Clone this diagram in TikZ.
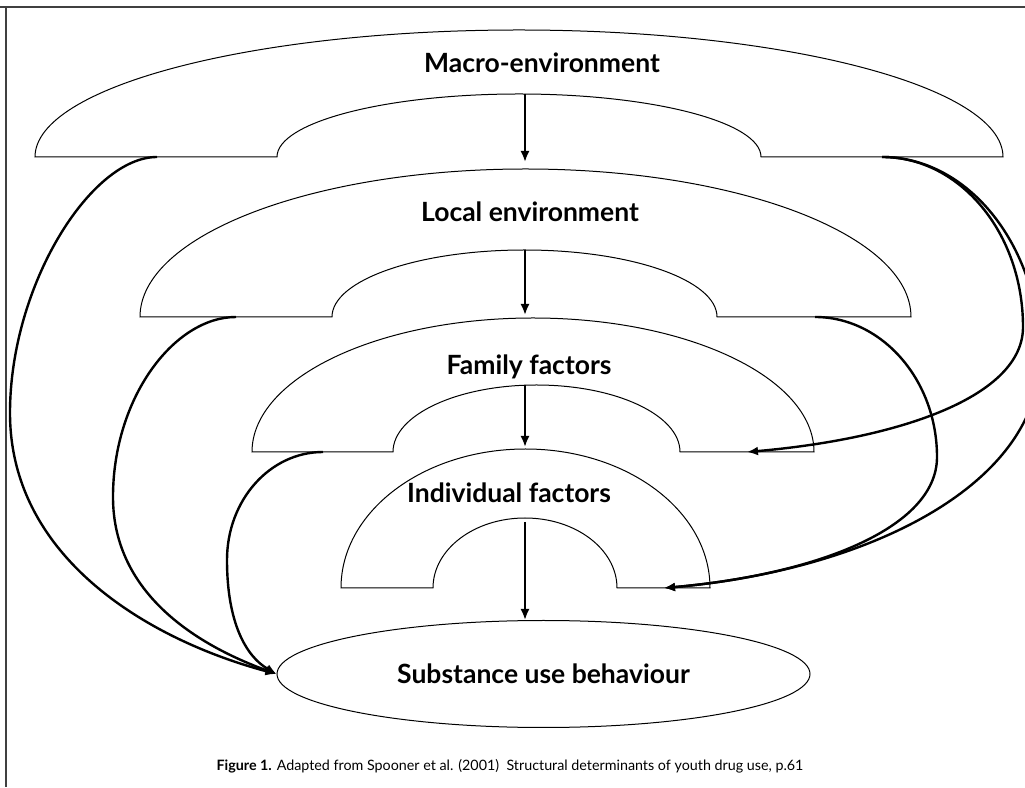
\documentclass[tikz,border=0pt]{standalone}
\usepackage{fontspec}
\setmainfont{Lato}
\usepackage{tikz}
\usetikzlibrary{arrows.meta}
\usetikzlibrary{shapes.geometric}

\begin{document}
\begin{tikzpicture}[x=1pt,y=1pt,
    arch/.style={draw,line width=1pt},
    lbl/.style={font=\fontsize{26.5}{30}\selectfont\bfseries},
    down/.style={line width=2pt,-{Latex[length=11pt,width=9pt]}},
    link/.style={line width=2.4pt,-{Latex[length=11pt,width=9pt]}}]
  \useasboundingbox (0,0) rectangle (1025,787);
  \draw[black!75,line width=1.4pt] (0,780) -- (1025,780);
  \draw[black!75,line width=1.4pt] (6,780) -- (6,0);
  % the four arches
  \draw[arch] (35,630) arc[start angle=180,end angle=0,x radius=484,y radius=127]
    -- (761,630) arc[start angle=0,end angle=180,x radius=242,y radius=63] -- cycle;
  \draw[arch] (140,470) arc[start angle=180,end angle=0,x radius=385.5,y radius=148]
    -- (717,470) arc[start angle=0,end angle=180,x radius=192.5,y radius=67] -- cycle;
  \draw[arch] (252,335) arc[start angle=180,end angle=0,x radius=281,y radius=134]
    -- (680,335) arc[start angle=0,end angle=180,x radius=143.5,y radius=67] -- cycle;
  \draw[arch] (341,199) arc[start angle=180,end angle=0,x radius=184.5,y radius=139]
    -- (617,199) arc[start angle=0,end angle=180,x radius=92,y radius=70] -- cycle;
  \node[lbl](macro) at (542,724) {Macro-environment};
  \node[lbl](local) at (530,575) {Local environment};
  \node[lbl](family) at (529,420) {Family factors};
  \node[lbl](indiv) at (509,294) {Individual factors};
  \node[lbl,draw,ellipse,line width=1pt,minimum width=533,minimum height=107,inner sep=0pt](subst)
    at (543.5,113) {Substance use behaviour};
  % attachment points
  \coordinate (macroIn) at (525,693);
  \coordinate (localTop) at (525,625);
  \coordinate (localIn) at (525,537);
  \coordinate (famTop) at (525,472);
  \coordinate (famIn) at (525,402);
  \coordinate (indivTop) at (525,340);
  \coordinate (indivIn) at (525,265);
  \coordinate (macroL) at (157,630);
  \coordinate (macroR) at (882,630);
  \coordinate (localL) at (236,470);
  \coordinate (localR) at (815,470);
  \coordinate (famL) at (323,335);
  \coordinate (famR) at (747,335);
  \coordinate (indivR) at (664,199);
  % turning points of the links
  \coordinate (turnD) at (10,374);
  \coordinate (turnE) at (113,290);
  \coordinate (turnF) at (227,227);
  \coordinate (turnA) at (1023,460);
  \coordinate (turnB) at (1040,430);
  \coordinate (turnC) at (937,330);
  \draw[down] (macroIn) -- (localTop);
  \draw[down] (localIn) -- (famTop);
  \draw[down] (famIn) -- (indivTop);
  \draw[down] (indivIn) -- (subst.north -| indivIn);
  % links on the left
  \draw[link] (macroL) to[out=180,in=90,out distance=66pt,in distance=128pt] (turnD)
    to[out=-90,in=165,out distance=144pt,in distance=134pt] (subst.west);
  \draw[link] (localL) to[out=180,in=90,out distance=62pt,in distance=99pt] (turnE)
    to[out=-90,in=160,out distance=98pt,in distance=82pt] (subst.west);
  \draw[link] (famL) to[out=180,in=90,out distance=53pt,in distance=60pt] (turnF)
    to[out=-90,in=150,out distance=63pt,in distance=35pt] (subst.west);
  % links on the right
  \draw[link] (macroR) to[out=0,in=90,out distance=78pt,in distance=94pt] (turnA)
    to[out=-90,in=5,out distance=70pt,in distance=152pt] (famR);
  \draw[link] (macroR) to[out=0,in=90,out distance=87pt,in distance=110pt] (turnB)
    to[out=-90,in=5,out distance=127pt,in distance=207pt] (indivR);
  \draw[link] (localR) to[out=0,in=90,out distance=67pt,in distance=77pt] (turnC)
    to[out=-90,in=5,out distance=72pt,in distance=150pt] (indivR);
  \node[font=\fontsize{14.3}{17}\selectfont](caption) at (510,21)
    {\textbf{Figure 1.} Adapted from Spooner et al. (2001) \ Structural determinants of youth drug use, p.61};
\end{tikzpicture}
\end{document}
